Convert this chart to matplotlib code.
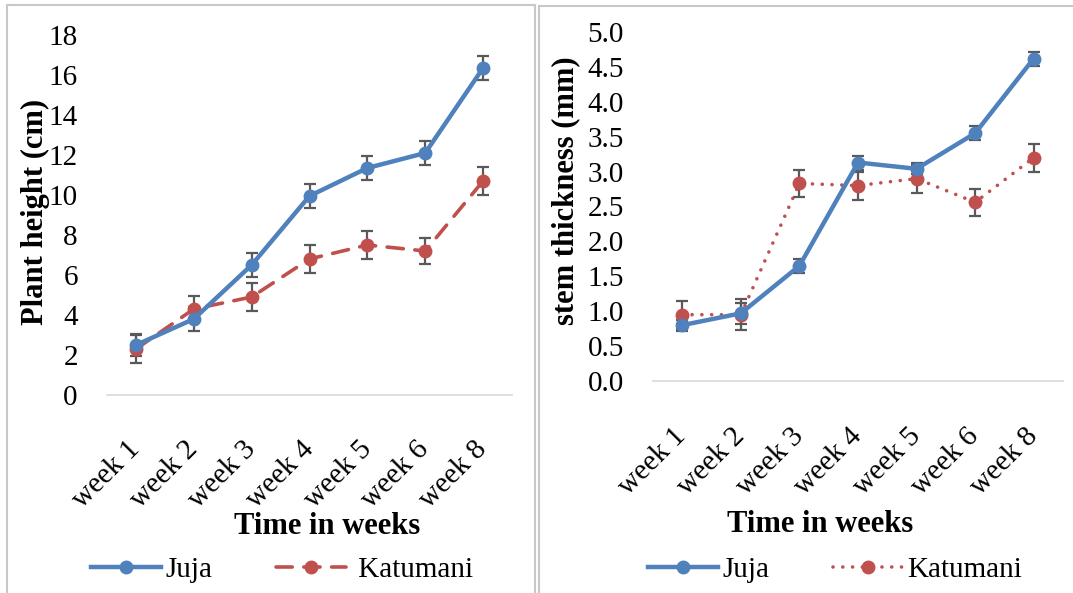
import matplotlib
matplotlib.use("Agg")
import matplotlib.pyplot as plt
from matplotlib.patches import Rectangle
from matplotlib.ticker import FormatStrFormatter

plt.rcParams['font.family'] = ['Liberation Serif', 'DejaVu Serif']

weeks = ['week 1', 'week 2', 'week 3', 'week 4', 'week 5', 'week 6', 'week 8']

# plant height (cm)
height_juja = [2.5, 3.8, 6.5, 9.95, 11.35, 12.1, 16.35]
height_juja_err = [0.55, 0.6, 0.6, 0.6, 0.6, 0.6, 0.6]
height_katumani = [2.3, 4.3, 4.9, 6.8, 7.5, 7.2, 10.7]
height_katumani_err = [0.7, 0.65, 0.7, 0.7, 0.7, 0.65, 0.7]

# stem thickness (mm)
stem_juja = [0.80, 0.97, 1.65, 3.13, 3.04, 3.55, 4.62]
stem_juja_err = [0.08, 0.15, 0.1, 0.1, 0.08, 0.1, 0.1]
stem_katumani = [0.95, 0.95, 2.83, 2.80, 2.90, 2.56, 3.20]
stem_katumani_err = [0.2, 0.22, 0.2, 0.2, 0.2, 0.19, 0.2]

AZUL = '#4F81BD'
ROJO = '#C0504D'
GRIS = '#595959'

W, H = 1073, 593
fig = plt.figure(figsize=(W / 100, H / 100), dpi=100)


def caja(px_left, px_top, px_right, px_bottom):
    return [px_left / W, 1 - px_bottom / H, (px_right - px_left) / W, (px_bottom - px_top) / H]


# gray frames around each panel
for x0, x1, y0 in [(7, 535, 5), (539, 1085, 6)]:
    fig.add_artist(Rectangle((x0 / W, -0.05), (x1 - x0) / W, 1.05 - y0 / H,
                             transform=fig.transFigure, fill=False,
                             edgecolor='#C8C8C8', linewidth=1.5))


def panel(ax, juja, juja_err, kat, kat_err, kat_style, ylim, step, fmt,
          ylabel, ylab_xy, xlab_xy, leg_xy, xpad, katumani_txt):
    x = range(len(weeks))
    ax.errorbar(x, juja, yerr=juja_err, fmt='none', ecolor=GRIS,
                elinewidth=1.6, capsize=4, capthick=1.6, zorder=2)
    ax.errorbar(x, kat, yerr=kat_err, fmt='none', ecolor=GRIS,
                elinewidth=1.6, capsize=4, capthick=1.6, zorder=2)
    ax.plot(x, juja, color=AZUL, lw=3.2, marker='o', ms=9,
            label='Juja', zorder=4)
    ax.plot(x, kat, color=ROJO, lw=2.6, marker='o', ms=9,
            linestyle=kat_style, dash_capstyle='round',
            label=katumani_txt, zorder=3)

    ax.set_xlim(-0.5, len(weeks) - 0.5)
    ax.set_ylim(*ylim)
    ax.set_xticks(list(x))
    ax.set_xticklabels(weeks, rotation=45, ha='right', va='center',
                       rotation_mode='anchor', fontsize=21)
    yt = [ylim[0] + i * step for i in range(int(round((ylim[1] - ylim[0]) / step)) + 1)]
    ax.set_yticks(yt)
    ax.yaxis.set_major_formatter(FormatStrFormatter(fmt))
    ax.tick_params(axis='y', length=0, pad=21, labelsize=21)
    ax.tick_params(axis='x', length=0, pad=xpad)

    for s in ['top', 'right', 'left']:
        ax.spines[s].set_visible(False)
    ax.spines['bottom'].set_color('#D9D9D9')
    ax.spines['bottom'].set_linewidth(1.2)

    ax.set_ylabel(ylabel, fontsize=22, fontweight='bold')
    ax.yaxis.set_label_coords(*ylab_xy)
    ax.set_xlabel('Time in weeks', fontsize=22, fontweight='bold')
    ax.xaxis.set_label_coords(*xlab_xy)

    ax.legend(loc='center', bbox_to_anchor=leg_xy, ncol=2, frameon=False,
              fontsize=21, handlelength=2.4, handletextpad=0.15,
              columnspacing=2.2, borderaxespad=0)


ax1 = fig.add_axes(caja(107, 35, 512, 395))
panel(ax1, height_juja, height_juja_err, height_katumani, height_katumani_err,
      (0, (4.5, 3.2)), (0, 18), 2, '%d', 'Plant height (cm)',
      (-0.141, 0.508), (0.543, -0.325), (0.432, -0.486), 36, ' Katumani')

ax2 = fig.add_axes(caja(653, 32, 1063, 381))
panel(ax2, stem_juja, stem_juja_err, stem_katumani, stem_katumani_err,
      (0, (0.01, 2.7)), (0, 5), 0.5, '%.1f', 'stem thickness (mm)',
      (-0.178, 0.544), (0.407, -0.37), (0.444, -0.542), 37, 'Katumani')

fig.savefig('out.png', dpi=100)
